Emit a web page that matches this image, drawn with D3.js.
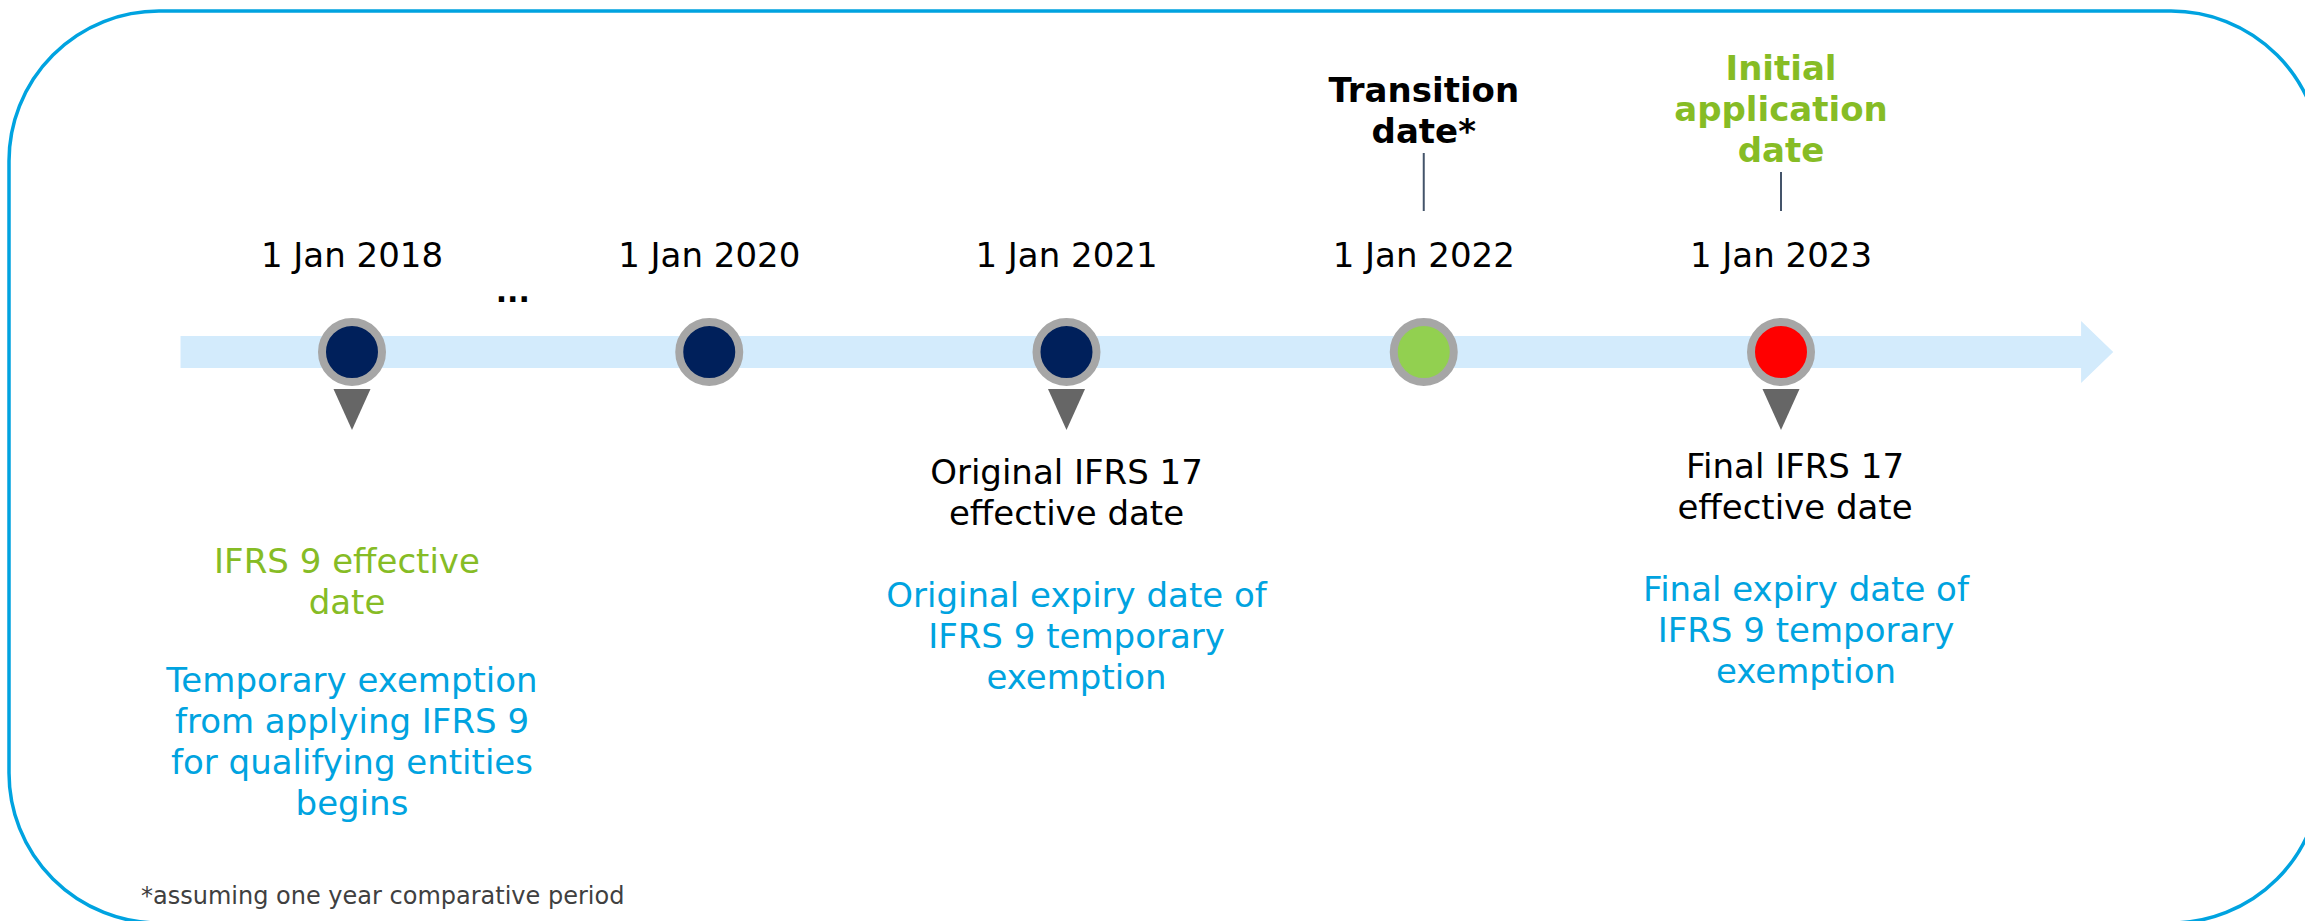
<!DOCTYPE html>
<html>
<head>
<meta charset="utf-8">
<script src="https://cdn.jsdelivr.net/npm/d3@7"></script>
<style>
  html, body { margin: 0; padding: 0; background: #ffffff; }
  svg { display: block; }
</style>
</head>
<body>
<div id="timeline"></div>
<script>
// DATOS DEL TIMELINE
var dates = ['1 Jan 2018', '1 Jan 2020', '1 Jan 2021', '1 Jan 2022', '1 Jan 2023'];
var steps = [0, 1, 2, 3, 4];
var kinds = ['past', 'past', 'past', 'transition', 'initial'];
var pointers = [true, false, true, false, true];
var gapAfter = 0.45; // "..." entre 2018 y 2020

var topLabels = [[], [], [], ['Transition', 'date*'], ['Initial', 'application', 'date']];
var mainNotes = [
    ['IFRS 9 effective', 'date'],
    [],
    ['Original IFRS 17', 'effective date'],
    [],
    ['Final IFRS 17', 'effective date']
];
var exemptionNotes = [
    ['Temporary exemption', 'from applying IFRS 9', 'for qualifying entities', 'begins'],
    [],
    ['Original expiry date of', 'IFRS 9 temporary', 'exemption'],
    [],
    ['Final expiry date of', 'IFRS 9 temporary', 'exemption']
];
var footnote = '*assuming one year comparative period';

// TAMAÑO
var width = 2305;
var height = 921;
var font = 'Verdana, "DejaVu Sans", sans-serif';
var lh = 41;

var blue = '#00a3e0';
var green = '#86bc25';

var svg = d3.select('#timeline').append('svg')
    .attr('width', width)
    .attr('height', height);

// marco redondeado
svg.append('rect')
    .attr('x', 9).attr('y', 11)
    .attr('width', 2312).attr('height', 912)
    .attr('rx', 150).attr('ry', 150)
    .attr('fill', 'none')
    .attr('stroke', blue)
    .attr('stroke-width', 3.5);

// ESCALA: paso del timeline -> x
var x = d3.scaleLinear().domain([0, 4]).range([352, 1781]);
var yLine = 352;

var markerColor = d3.scaleOrdinal()
    .domain(['past', 'transition', 'initial'])
    .range(['#00205b', '#92d050', '#ff0000']);

// flecha de fondo
var x0 = x(-0.48), x1 = x(4.84), xTip = x(4.93);
svg.append('path')
    .attr('fill', '#d3ebfc')
    .attr('d', 'M' + x0 + ',' + (yLine - 16) +
        'L' + x1 + ',' + (yLine - 16) +
        'L' + x1 + ',' + (yLine - 31) +
        'L' + xTip + ',' + yLine +
        'L' + x1 + ',' + (yLine + 31) +
        'L' + x1 + ',' + (yLine + 16) +
        'L' + x0 + ',' + (yLine + 16) + 'Z');

// puntos suspensivos
svg.append('text')
    .attr('x', x(gapAfter))
    .attr('y', 302)
    .attr('text-anchor', 'middle')
    .attr('font-family', font)
    .attr('font-weight', 'bold')
    .attr('font-size', '30px')
    .attr('fill', '#000')
    .text('...');

var ms = svg.selectAll('g.milestone')
    .data(steps)
    .enter().append('g')
    .attr('class', 'milestone');

// circulos
ms.append('circle')
    .attr('cx', function (d) { return x(d); })
    .attr('cy', yLine)
    .attr('r', 30)
    .attr('fill', function (d, i) { return markerColor(kinds[i]); })
    .attr('stroke', '#a6a6a6')
    .attr('stroke-width', 8);

// triangulos
ms.filter(function (d, i) { return pointers[i]; })
    .append('path')
    .attr('fill', '#666666')
    .attr('d', function (d) {
        var cx = x(d);
        return 'M' + (cx - 18.5) + ',389L' + (cx + 18.5) + ',389L' + cx + ',430Z';
    });

// fechas
ms.append('text')
    .attr('x', function (d) { return x(d); })
    .attr('y', 267)
    .attr('text-anchor', 'middle')
    .attr('font-family', font)
    .attr('font-size', '34px')
    .attr('fill', '#000')
    .text(function (d, i) { return dates[i]; });

// etiquetas superiores + linea
var topBottom = [0, 0, 0, 143, 162];
ms.filter(function (d, i) { return topLabels[i].length > 0; })
    .each(function (d) {
        var g = d3.select(this);
        var lines = topLabels[d];
        var last = topBottom[d];
        var col = kinds[d] === 'initial' ? green : '#000';
        var t = g.append('text')
            .attr('text-anchor', 'middle')
            .attr('font-family', font)
            .attr('font-weight', 'bold')
            .attr('font-size', '34px')
            .attr('fill', col);
        lines.forEach(function (s, k) {
            t.append('tspan')
                .attr('x', x(d))
                .attr('y', last - (lines.length - 1 - k) * lh)
                .text(s);
        });
        g.append('line')
            .attr('x1', x(d)).attr('x2', x(d))
            .attr('y1', last + 10).attr('y2', 211)
            .attr('stroke', '#44546a')
            .attr('stroke-width', 2);
    });

// notas inferiores
var noteTop = [573, 0, 484, 0, 478];
var noteDx = [-5, 0, 0, 0, 14];
var exemptDx = [0, 0, 10, 0, 25];

function addBlock(g, lines, cx, y0, color) {
    var t = g.append('text')
        .attr('text-anchor', 'middle')
        .attr('font-family', font)
        .attr('font-size', '34px')
        .attr('fill', color);
    lines.forEach(function (s, k) {
        t.append('tspan').attr('x', cx).attr('y', y0 + k * lh).text(s);
    });
}

ms.filter(function (d, i) { return mainNotes[i].length > 0; })
    .each(function (d) {
        var g = d3.select(this);
        var top = noteTop[d];
        addBlock(g, mainNotes[d], x(d) + noteDx[d], top, d === 0 ? green : '#000');
        var top2 = top + (mainNotes[d].length + 1) * lh - (d === 0 ? 4 : 0);
        addBlock(g, exemptionNotes[d], x(d) + exemptDx[d], top2, blue);
    });

// nota al pie
svg.append('text')
    .attr('x', 141)
    .attr('y', 904)
    .attr('font-family', font)
    .attr('font-size', '24px')
    .attr('fill', '#404040')
    .text(footnote);
</script>
</body>
</html>
